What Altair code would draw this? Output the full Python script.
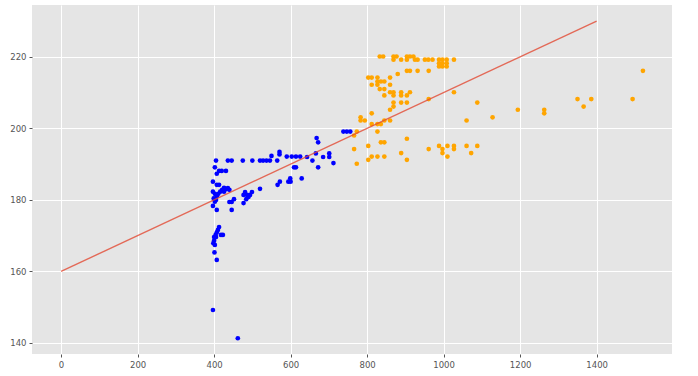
import altair as alt
import pandas as pd

blue_x = [405, 436, 446, 475, 500, 520, 528, 537, 546, 550, 565, 571, 571, 590, 603, 614, 625, 643, 657, 666,
          668, 672, 685, 701, 701, 712, 738, 747, 756, 672, 629, 614, 609, 599, 594, 600, 572, 566, 520, 499,
          494, 490, 486, 481, 477, 477, 484, 452, 446, 440, 446, 397, 407, 413, 402, 407, 413, 420, 431, 397,
          402, 407, 416, 421, 426, 431, 436, 440, 426, 411, 397, 402, 407, 399, 405,
          413, 410, 407, 404, 418, 423, 400, 405, 400, 398, 402, 401, 407, 397, 462]
blue_y = [191, 191, 191, 191, 191, 191, 191, 191, 191, 192.3, 191, 192.7, 193.4, 192.1, 192.1, 192.1, 192.1, 192, 191, 193,
          197.3, 196.1, 192, 193, 192, 190.3, 199.1, 199.1, 199.1, 189.1, 186, 189.1, 189.1, 186, 185.1, 185.1, 185.1, 184.2, 183.1, 182.2,
          181.4, 180.8, 181.4, 182.2, 181.4, 179.1, 180.2, 180.2, 179.4, 179.4, 177.2, 185.1, 184.2, 184.2, 189.1, 187.3, 188.1, 188.1, 188.1, 182.3,
          181.7, 181, 182.3, 182.8, 183.4, 183, 183.3, 182.8, 182.3, 181.7, 178.3, 179.5, 177.2, 180.4, 180.0,
          172.4, 171.6, 170.9, 170.2, 170.2, 170.2, 169.6, 169.6, 168.6, 167.9, 167.4, 165.3, 163.2, 149.2, 141.3]

orange_x = [833, 842, 869, 877, 904, 912, 921,
            869, 889, 904, 925, 932, 951, 960, 971, 988, 997, 1008, 1027,
            988, 997, 1008, 988, 997, 1008,
            904, 912, 932, 961,
            880,
            803, 812, 827, 860,
            827, 836, 845,
            812, 827, 860,
            833, 845,
            860, 869, 889, 912, 1027,
            845, 869, 889, 904,
            961,
            869, 889, 904, 1088,
            869,
            860, 1194,
            812,
            783, 1128,
            783, 794, 845, 860, 1060,
            812, 827, 836,
            827, 773,
            766,
            904,
            836, 845,
            803, 988, 1010, 1027, 1060, 1088,
            766, 961, 997, 1027,
            889, 997, 1072,
            812, 827, 845, 1010,
            803, 904,
            773,
            1521, 1350, 1386, 1366, 1494, 1263, 1263]
orange_y = [220.1] * 7 + [219.2] * 12 + [218.2] * 3 + [217.3] * 3 + [216.1] * 4 + [215.2] + [214.2] * 4 + \
           [213.1] * 3 + [212.2] * 3 + [211] * 2 + [210.1] * 5 + [209.2] * 4 + [208.2] + [207.2] * 4 + [206.1] + \
           [205.2] * 2 + [204.2] + [203.1] * 2 + [202.2] * 5 + [201.2] * 3 + [199.1] * 2 + [198] + [197.1] + \
           [196.1] * 2 + [195.1] * 6 + [194.2] * 4 + [193.1] * 3 + [192.1] * 4 + [191.2] * 2 + [190.1] + \
           [216.1, 208.2, 208.2, 206.1, 208.2, 205.2, 204.2]

line_x = [0, 1400]
line_y = [160, 230]

df = pd.DataFrame({
    "x": blue_x + orange_x,
    "y": blue_y + orange_y,
    "g": ["blue"] * len(blue_x) + ["orange"] * len(orange_x),
})
ldf = pd.DataFrame({"x": line_x, "y": line_y})

xs = alt.Scale(domain=[-76, 1597], nice=False, zero=False)
ys = alt.Scale(domain=[136.9, 234.5], nice=False, zero=False)

axis_common = dict(
    grid=True, gridColor="white", gridWidth=1, domain=False,
    tickColor="#555555", tickSize=3, labelColor="#555555",
    labelFont="DejaVu Sans", labelFontSize=8.5, title=None, labelPadding=3,
    format="d",
)

pts = alt.Chart(df).mark_circle(size=22, opacity=1).encode(
    x=alt.X("x:Q", scale=xs, axis=alt.Axis(values=[0, 200, 400, 600, 800, 1000, 1200, 1400], **axis_common)),
    y=alt.Y("y:Q", scale=ys, axis=alt.Axis(values=[140, 160, 180, 200, 220], **axis_common)),
    color=alt.Color("g:N", scale=alt.Scale(domain=["blue", "orange"], range=["#0000FF", "#FFA500"]), legend=None),
)

line = alt.Chart(ldf).mark_line(color="#E24A33", strokeWidth=1.4, opacity=0.8).encode(
    x=alt.X("x:Q", scale=xs),
    y=alt.Y("y:Q", scale=ys),
)

chart = (pts + line).properties(
    width=640, height=349,
    autosize=alt.AutoSizeParams(type="none"),
    padding={"left": 32, "top": 5, "right": 26, "bottom": 22},
    background="white",
).configure_view(fill="#E5E5E5", stroke=None)

chart.save("out.html", embed_options={"renderer": "svg", "actions": False})
